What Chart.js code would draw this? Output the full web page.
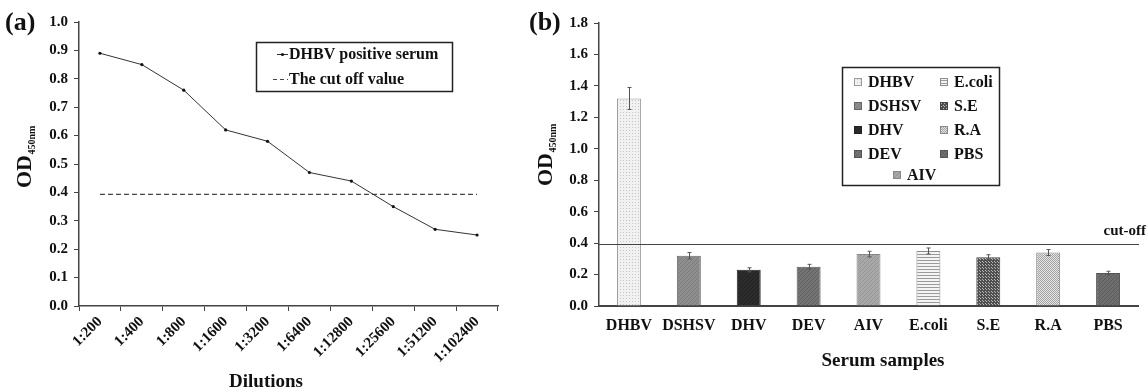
<!DOCTYPE html>
<html>
<head>
<meta charset="utf-8">
<script src="https://cdn.jsdelivr.net/npm/chart.js@4.4.1/dist/chart.umd.min.js"></script>
<style>
  html, body { margin: 0; padding: 0; background: #fff; }
  #wrapA { position: absolute; left: 0; top: 0; width: 520px; height: 392px; }
  #wrapB { position: absolute; left: 520px; top: 0; width: 628px; height: 392px; }
</style>
</head>
<body>
<div id="wrapA"><canvas id="chartA"></canvas></div>
<div id="wrapB"><canvas id="chartB"></canvas></div>
<script>
// ---- panel (a): titration of the DHBV positive serum ----
const dilutions = ['1:200', '1:400', '1:800', '1:1600', '1:3200', '1:6400', '1:12800', '1:25600', '1:51200', '1:102400'];
const positiveOD = [0.89, 0.85, 0.76, 0.62, 0.58, 0.47, 0.44, 0.35, 0.27, 0.25];
const cutoffA = [0.393, 0.393, 0.393, 0.393, 0.393, 0.393, 0.393, 0.393, 0.393, 0.393];
const seriesNamesA = ['DHBV positive serum', 'The cut off value'];

// ---- panel (b): specificity against other sera ----
const samples = ['DHBV', 'DSHSV', 'DHV', 'DEV', 'AIV', 'E.coli', 'S.E', 'R.A', 'PBS'];
const sampleOD = [1.32, 0.32, 0.23, 0.25, 0.33, 0.35, 0.31, 0.34, 0.21];
const sampleErr = [0.07, 0.02, 0.013, 0.015, 0.018, 0.019, 0.016, 0.019, 0.011];
const cutoffB = 0.395;

const SERIF = "'Liberation Serif', 'Times New Roman', serif";
Chart.defaults.font.family = SERIF;
Chart.defaults.font.weight = 'bold';
Chart.defaults.color = '#111';

/**
 * Build a small tiled fill pattern
 */
function makePattern(kind, bg, fg) {
  const c = document.createElement('canvas');
  const size = kind === 'hstripe' ? 3 : (kind === 'diag' ? 4 : (kind === 'check' ? 2 : 3));
  c.width = size; c.height = size;
  const g = c.getContext('2d');
  g.fillStyle = bg;
  g.fillRect(0, 0, size, size);
  g.fillStyle = fg;
  if (kind === 'dots') {
    g.fillRect(1, 1, 1, 1);
  } else if (kind === 'diag') {
    for (let i = 0; i < size; i++) g.fillRect(i, size - 1 - i, 1, 1);
  } else if (kind === 'hstripe') {
    g.fillRect(0, 2, size, 1);
  } else if (kind === 'check') {
    g.fillRect(0, 0, 1, 1);
    g.fillRect(1, 1, 1, 1);
  } else if (kind === 'weave') {
    g.fillRect(1, 1, 1, 1);
    g.fillRect(0, 0, 1, 1);
  }
  return g.createPattern(c, 'repeat');
}

const barFills = [
  makePattern('dots', '#f1f1f1', '#c4c4c4'),
  makePattern('diag', '#8e8e8e', '#7c7c7c'),
  makePattern('diag', '#2c2c2c', '#222'),
  makePattern('diag', '#747474', '#5e5e5e'),
  makePattern('diag', '#a8a8a8', '#959595'),
  makePattern('hstripe', '#f4f4f4', '#9a9a9a'),
  makePattern('weave', '#4f4f4f', '#b8b8b8'),
  makePattern('check', '#e4e4e4', '#a4a4a4'),
  makePattern('diag', '#6e6e6e', '#5c5c5c')
];
const barBorders = ['#9a9a9a', '#666', '#222', '#555', '#888', '#8c8c8c', '#444', '#888', '#555'];

function drawYTitle(ctx, x, y) {
  ctx.save();
  ctx.translate(x, y);
  ctx.rotate(-Math.PI / 2);
  ctx.fillStyle = '#111';
  ctx.textAlign = 'left';
  ctx.textBaseline = 'alphabetic';
  ctx.font = `bold 22px ${SERIF}`;
  ctx.fillText('OD', 0, 0);
  const w = ctx.measureText('OD').width;
  ctx.font = `bold 10px ${SERIF}`;
  ctx.fillText('450nm', w + 0.5, 4);
  ctx.restore();
}

function drawText(ctx, text, x, y, size, align) {
  ctx.save();
  ctx.fillStyle = '#111';
  ctx.font = `bold ${size}px ${SERIF}`;
  ctx.textAlign = align || 'left';
  ctx.textBaseline = 'middle';
  ctx.fillText(text, x, y);
  ctx.restore();
}

// titles, panel letter and boxed legend of panel (a)
const decorA = {
  id: 'decorA',
  afterDraw(chart) {
    const ctx = chart.ctx;
    drawText(ctx, '(a)', 5, 23, 26);
    drawYTitle(ctx, 31, 188);
    drawText(ctx, 'Dilutions', 266, 382, 19, 'center');

    // legend box
    ctx.save();
    ctx.strokeStyle = '#222';
    ctx.lineWidth = 1.5;
    ctx.strokeRect(256.5, 42.5, 196, 49);
    const ds = chart.data.datasets;
    // row 1: line with marker
    ctx.strokeStyle = ds[0].borderColor;
    ctx.lineWidth = 1;
    ctx.beginPath(); ctx.moveTo(277, 54.5); ctx.lineTo(288, 54.5); ctx.stroke();
    ctx.fillStyle = '#111';
    ctx.beginPath(); ctx.arc(282.5, 54.5, 1.6, 0, Math.PI * 2); ctx.fill();
    // row 2: dashed line
    ctx.strokeStyle = ds[1].borderColor;
    ctx.lineWidth = 1.2;
    ctx.setLineDash([4, 3]);
    ctx.beginPath(); ctx.moveTo(273, 79.5); ctx.lineTo(288, 79.5); ctx.stroke();
    ctx.restore();
    drawText(ctx, ds[0].label, 289, 55, 16);
    drawText(ctx, ds[1].label, 289, 80, 16);
  }
};

// error bars, cut-off line, titles and legend of panel (b)
const decorB = {
  id: 'decorB',
  afterDatasetsDraw(chart) {
    const ctx = chart.ctx;
    const y = chart.scales.y;
    const meta = chart.getDatasetMeta(0);
    ctx.save();
    ctx.strokeStyle = '#555';
    ctx.lineWidth = 1;
    meta.data.forEach((bar, i) => {
      const top = y.getPixelForValue(sampleOD[i] + sampleErr[i]);
      const bot = y.getPixelForValue(sampleOD[i] - sampleErr[i]);
      const x = Math.round(bar.x) + 0.5;
      ctx.beginPath();
      ctx.moveTo(x, top); ctx.lineTo(x, bot);
      ctx.moveTo(x - 2, top); ctx.lineTo(x + 2, top);
      ctx.moveTo(x - 2, bot); ctx.lineTo(x + 2, bot);
      ctx.stroke();
    });
    // cut-off line
    const cy = Math.round(y.getPixelForValue(cutoffB)) + 0.5;
    ctx.strokeStyle = '#444';
    ctx.lineWidth = 1.2;
    ctx.beginPath();
    ctx.moveTo(chart.chartArea.left, cy);
    ctx.lineTo(chart.chartArea.right + 1, cy);
    ctx.stroke();
    ctx.restore();
  },
  afterDraw(chart) {
    const ctx = chart.ctx;
    drawText(ctx, '(b)', 9, 23, 26);
    drawYTitle(ctx, 32, 186);
    drawText(ctx, 'Serum samples', 363, 361, 19, 'center');
    drawText(ctx, 'cut-off', 626, 231, 15, 'right');

    // legend box with two columns, last item centred
    ctx.save();
    ctx.strokeStyle = '#222';
    ctx.lineWidth = 1.5;
    ctx.strokeRect(322.5, 67.5, 157, 118);
    ctx.restore();
    const rows = [82, 106, 130, 154, 175];
    samples.forEach((name, i) => {
      let sx, row;
      if (i < 4) { sx = 334; row = i; }
      else if (i === 4) { sx = 373; row = 4; }
      else { sx = 420; row = i - 5; }
      const ry = rows[row];
      ctx.save();
      ctx.fillStyle = barFills[i];
      ctx.fillRect(sx, ry - 4, 8, 8);
      ctx.strokeStyle = barBorders[i];
      ctx.lineWidth = 1;
      ctx.strokeRect(sx + 0.5, ry - 3.5, 7, 7);
      ctx.restore();
      drawText(ctx, name, sx + 14, ry + 1, 16);
    });
  }
};

const axisGrid = { display: true, drawOnChartArea: false, drawTicks: true, tickLength: 5, color: '#444', lineWidth: 1 };
const axisBorder = { display: true, color: '#444', width: 1.5 };

const chartA = new Chart(document.getElementById('chartA').getContext('2d'), {
  type: 'line',
  data: {
    labels: dilutions,
    datasets: [
      {
        label: seriesNamesA[0],
        data: positiveOD,
        borderColor: '#333',
        borderWidth: 1,
        pointRadius: 1.6,
        pointBackgroundColor: '#111',
        pointBorderWidth: 0,
        tension: 0
      },
      {
        label: seriesNamesA[1],
        data: cutoffA,
        borderColor: '#444',
        borderWidth: 1.2,
        borderDash: [5, 3],
        pointRadius: 0,
        tension: 0
      }
    ]
  },
  options: {
    responsive: true,
    maintainAspectRatio: false,
    animation: false,
    layout: { padding: { top: 22, right: 22, left: 0, bottom: 0 } },
    plugins: { legend: { display: false }, tooltip: { enabled: false } },
    scales: {
      x: {
        offset: true,
        grid: { ...axisGrid, offset: true },
        border: axisBorder,
        ticks: { autoSkip: false, maxRotation: 45, minRotation: 45, padding: 2, font: { size: 15 } },
        afterFit(s) { s.height = 86; }
      },
      y: {
        min: 0,
        max: 1.0,
        grid: axisGrid,
        border: axisBorder,
        ticks: { stepSize: 0.1, padding: 6, font: { size: 15 }, callback: v => Number(v).toFixed(1) },
        afterFit(s) { s.width = 79; }
      }
    }
  },
  plugins: [decorA]
});

const chartB = new Chart(document.getElementById('chartB').getContext('2d'), {
  type: 'bar',
  data: {
    labels: samples,
    datasets: [
      {
        label: 'OD450nm',
        data: sampleOD,
        backgroundColor: barFills,
        borderColor: barBorders,
        borderWidth: 1,
        barPercentage: 0.4,
        categoryPercentage: 1.0
      }
    ]
  },
  options: {
    responsive: true,
    maintainAspectRatio: false,
    animation: false,
    layout: { padding: { top: 23, right: 10, left: 0, bottom: 0 } },
    plugins: { legend: { display: false }, tooltip: { enabled: false } },
    scales: {
      x: {
        grid: { display: true, drawOnChartArea: false, drawTicks: false },
        border: { display: true, color: '#444', width: 2 },
        ticks: { padding: 10, font: { size: 16 } },
        afterFit(s) { s.height = 86; }
      },
      y: {
        min: 0,
        max: 1.8,
        grid: axisGrid,
        border: axisBorder,
        ticks: { stepSize: 0.2, padding: 6, font: { size: 15 }, callback: v => Number(v).toFixed(1) },
        afterFit(s) { s.width = 79; }
      }
    }
  },
  plugins: [decorB]
});
</script>
</body>
</html>
